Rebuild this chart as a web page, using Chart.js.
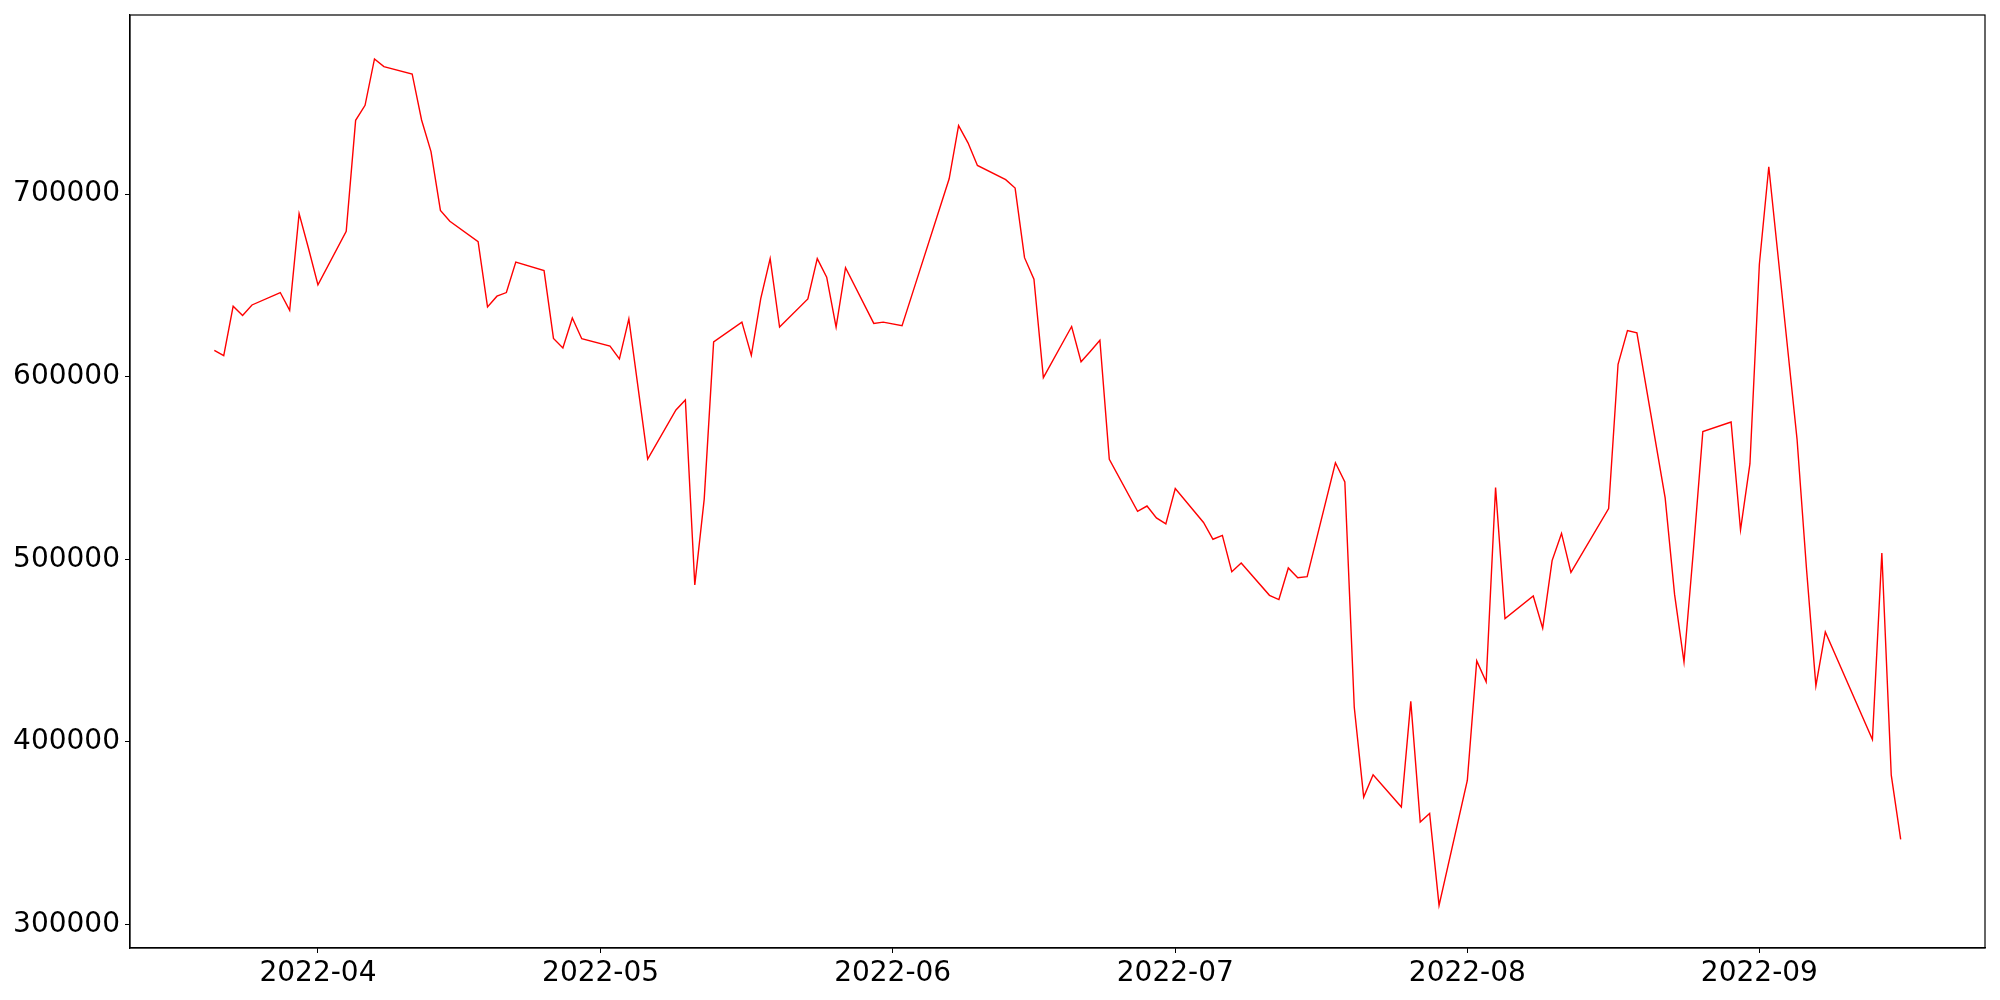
<!DOCTYPE html>
<html>
<head>
<meta charset="utf-8">
<script src="https://cdn.jsdelivr.net/npm/chart.js@4.4.0/dist/chart.umd.min.js"></script>
<style>
  html, body { margin: 0; padding: 0; background: #fff; }
  #wrap { width: 2000px; height: 1000px; }
</style>
</head>
<body>
<div id="wrap"><canvas id="chart" width="2000" height="1000"></canvas></div>
<script>
// trading days (weekdays, a few holidays missing)
const dates = [
  '2022-03-21','2022-03-22','2022-03-23','2022-03-24','2022-03-25',
  '2022-03-28','2022-03-29','2022-03-30','2022-03-31','2022-04-01',
  '2022-04-04','2022-04-05','2022-04-06','2022-04-07','2022-04-08',
  '2022-04-11','2022-04-12','2022-04-13','2022-04-14','2022-04-15',
  '2022-04-18','2022-04-19','2022-04-20','2022-04-21','2022-04-22',
  '2022-04-25','2022-04-26','2022-04-27','2022-04-28','2022-04-29',
  '2022-05-02','2022-05-03','2022-05-04','2022-05-06',
  '2022-05-09','2022-05-10','2022-05-11','2022-05-12','2022-05-13',
  '2022-05-16','2022-05-17','2022-05-18','2022-05-19','2022-05-20',
  '2022-05-23','2022-05-24','2022-05-25','2022-05-26','2022-05-27',
  '2022-05-30','2022-05-31','2022-06-02','2022-06-03',
  '2022-06-07','2022-06-08','2022-06-09','2022-06-10',
  '2022-06-13','2022-06-14','2022-06-15','2022-06-16','2022-06-17',
  '2022-06-20','2022-06-21','2022-06-22','2022-06-23','2022-06-24',
  '2022-06-27','2022-06-28','2022-06-29','2022-06-30','2022-07-01',
  '2022-07-04','2022-07-05','2022-07-06','2022-07-07','2022-07-08',
  '2022-07-11','2022-07-12','2022-07-13','2022-07-14','2022-07-15',
  '2022-07-18','2022-07-19','2022-07-20','2022-07-21','2022-07-22',
  '2022-07-25','2022-07-26','2022-07-27','2022-07-28','2022-07-29',
  '2022-08-01','2022-08-02','2022-08-03','2022-08-04','2022-08-05',
  '2022-08-08','2022-08-09','2022-08-10','2022-08-11','2022-08-12',
  '2022-08-16','2022-08-17','2022-08-18','2022-08-19',
  '2022-08-22','2022-08-23','2022-08-24','2022-08-25','2022-08-26',
  '2022-08-29','2022-08-30','2022-08-31','2022-09-01','2022-09-02',
  '2022-09-05','2022-09-06','2022-09-07','2022-09-08',
  '2022-09-13','2022-09-14','2022-09-15','2022-09-16'
];

const values = [
  614400, 611500, 638600, 633500, 639300,
  646100, 636400, 689300, 670200, 650300,
  679600, 740400, 748600, 774000, 769800,
  765800, 740600, 723300, 691100, 685100,
  674000, 638200, 644100, 646100, 662800,
  658100, 621000, 615800, 632200, 620800,
  616800, 609800, 631700, 554900,
  581800, 587300, 486000, 533000, 619100,
  629900, 611700, 642800, 664700, 627200,
  642600, 664700, 654500, 627200, 659700,
  629200, 629900, 627900, 644000,
  708400, 737500, 728100, 715700,
  707900, 703300, 665200, 653400, 599500,
  627500, 608200, 614000, 620000, 554800,
  526300, 529200, 522700, 519400, 538800,
  520200, 511000, 513100, 493200, 498000,
  480300, 478000, 495300, 489900, 490500,
  552900, 542400, 419000, 369800, 382000,
  364400, 422200, 356200, 360900, 310500,
  378900, 444400, 432900, 539300, 467600,
  479900, 462300, 499300, 514200, 492900,
  527800, 606800, 625300, 624000,
  533700, 480800, 443800, 505000, 570000,
  575200, 516100, 552400, 661600, 715000,
  565800, 495000, 430700, 460300,
  401400, 503500, 381800, 346700
];

const monthTicks = ['2022-04','2022-05','2022-06','2022-07','2022-08','2022-09'];
const yTicks = [300000, 400000, 500000, 600000, 700000];

const DAY = 86400000;
function toMs(s) {
  const p = s.split('-').map(Number);
  return Date.UTC(p[0], p[1] - 1, p[2] || 1);
}

const points = dates.map((d, i) => ({ x: toMs(d), y: values[i] }));
const xMin = toMs(dates[0]) - 8.95 * DAY;
const xMax = toMs(dates[dates.length - 1]) + 8.95 * DAY;

// frame around the plot area, like a matplotlib axes box
const boxPlugin = {
  id: 'box',
  afterDraw(chart) {
    const a = chart.chartArea;
    const ctx = chart.ctx;
    ctx.save();
    ctx.strokeStyle = '#000';
    ctx.lineWidth = 1.2;
    ctx.strokeRect(a.left, a.top, a.right - a.left, a.bottom - a.top);
    ctx.restore();
  }
};

const font = { family: 'DejaVu Sans', size: 28 };

new Chart(document.getElementById('chart').getContext('2d'), {
  type: 'line',
  data: {
    datasets: [{
      data: points,
      borderColor: '#ff0000',
      borderWidth: 1.4,
      pointRadius: 0,
      tension: 0,
      fill: false
    }]
  },
  options: {
    responsive: false,
    animation: false,
    devicePixelRatio: 1,
    layout: { padding: { top: 15, right: 15, left: 0, bottom: 0 } },
    plugins: { legend: { display: false }, tooltip: { enabled: false } },
    scales: {
      x: {
        type: 'linear',
        min: xMin,
        max: xMax,
        afterBuildTicks: (scale) => {
          scale.ticks = monthTicks.map(m => ({ value: toMs(m) }));
        },
        afterFit: (scale) => {
          scale.height = 52;
          scale.paddingLeft = 0;
          scale.paddingRight = 0;
        },
        ticks: {
          color: '#000',
          font: font,
          padding: 4,
          maxRotation: 0,
          autoSkip: false,
          callback: (v) => {
            const d = new Date(v);
            return d.getUTCFullYear() + '-' + String(d.getUTCMonth() + 1).padStart(2, '0');
          }
        },
        grid: { drawOnChartArea: false, drawTicks: true, tickLength: 5, color: '#000' },
        border: { display: true, color: '#000', width: 1.2 }
      },
      y: {
        min: 287180,
        max: 798080,
        afterBuildTicks: (scale) => {
          scale.ticks = yTicks.map(v => ({ value: v }));
        },
        afterFit: (scale) => {
          scale.width = 130;
          scale.paddingTop = 0;
          scale.paddingBottom = 0;
        },
        ticks: {
          color: '#000',
          font: font,
          padding: 5,
          callback: (v) => String(v)
        },
        grid: { drawOnChartArea: false, drawTicks: true, tickLength: 5, color: '#000' },
        border: { display: true, color: '#000', width: 1.2 }
      }
    }
  },
  plugins: [boxPlugin]
});
</script>
</body>
</html>
